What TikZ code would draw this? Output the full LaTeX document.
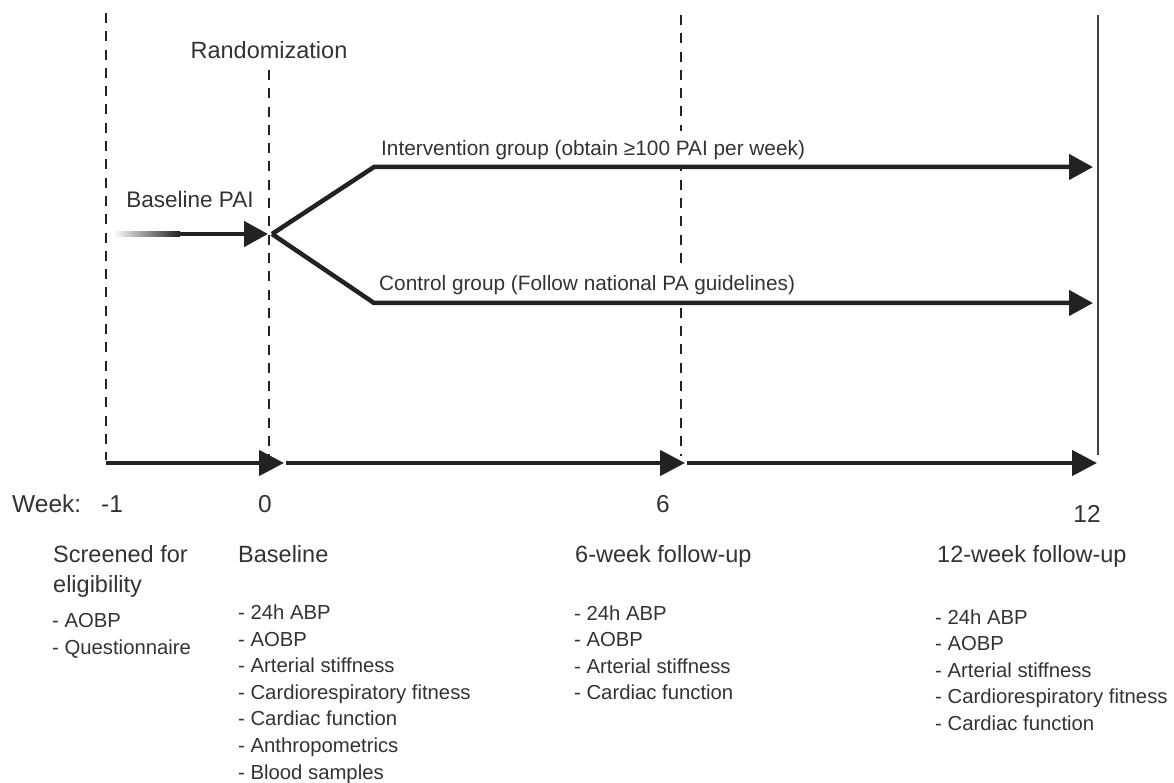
\documentclass[tikz,border=0pt]{standalone}
\usepackage{fontspec}
\setmainfont{Liberation Sans}
\usetikzlibrary{arrows.meta}
\definecolor{ink}{HTML}{333333}
\definecolor{linec}{HTML}{222222}
\begin{document}
\begin{tikzpicture}[x=1pt,y=-1pt,
  flow/.style={draw=linec,line width=4.5pt},
  bigtip/.style={-{Triangle[length=24pt,width=25pt]}},
  tltip/.style={-{Triangle[length=25pt,width=25pt]}},
  guide/.style={draw=linec,line width=2.2pt,dash pattern=on 10pt off 8.3pt},
  lab/.style={inner xsep=0pt,inner ysep=9pt,fill=white,text=ink,font=\fontsize{20.8}{24}\selectfont,anchor=base west},
  item/.style={inner sep=0pt,text=ink,font=\fontsize{20.3}{24}\selectfont,anchor=base west},
  head/.style={inner sep=0pt,text=ink,font=\fontsize{23.5}{28}\selectfont,anchor=base west},
  wk/.style={inner sep=0pt,text=ink,font=\fontsize{24.5}{28}\selectfont,anchor=base},
]
\fill[white] (0,0) rectangle (1174,783);
\useasboundingbox (0,0) rectangle (1174,783);

% guide lines
\coordinate (gAt) at (106,13);  \coordinate (gAb) at (106,460);
\coordinate (gBt) at (269,70);  \coordinate (gBb) at (269,460);
\coordinate (gCt) at (681,15);  \coordinate (gCb) at (681,456);
\coordinate (gDt) at (1098,15); \coordinate (gDb) at (1098,455);
\draw[guide] (gAt) -- (gAb);
\draw[guide] (gBt) -- (gBb);
\draw[guide] (gCt) -- (gCb);
\draw[draw=linec!85,line width=2pt] (gDt) -- (gDb);

% labels on the arms (white backing hides the guide line)
\node[lab] (int) at (381,155.5) {Intervention group (obtain ≥100 PAI per week)};
\node[lab] (ctl) at (379,290.5) {Control group (Follow national PA guidelines)};

% timeline
\coordinate (wm1) at (106,463);
\coordinate (w0) at (284,463);
\coordinate (w0s) at (286,463);
\coordinate (w6) at (685,463);
\coordinate (w6s) at (687,463);
\coordinate (w12) at (1097,463);
\draw[flow,tltip] (wm1) -- (w0);
\draw[flow,tltip] (w0s) -- (w6);
\draw[flow,tltip] (w6s) -- (w12);

% baseline PAI arrow with fading tail
\coordinate (paiS) at (113,234);
\coordinate (paiM) at (180,234);
\coordinate (pai) at (268,234);
\coordinate (j) at (272,234);
\shade[left color=white,right color=linec] (113,231.75) rectangle (180,236.25);
\draw[flow,bigtip] (paiM) -- (pai);

% branches
\coordinate (iC) at (374,167);
\coordinate (iE) at (1093,167);
\coordinate (cC) at (374,303);
\coordinate (cE) at (1093,303);
\draw[flow,bigtip] (j) -- (iC) -- (iE);
\draw[flow,bigtip] (j) -- (cC) -- (cE);

% labels
\node[inner sep=0pt,text=ink,font=\fontsize{23.5}{28}\selectfont,anchor=base] (rand) at (269,58.5) {Randomization};
\node[inner sep=0pt,text=ink,font=\fontsize{22.5}{26}\selectfont,anchor=base] (bpai) at (190,208) {Baseline PAI};

% week row
\node[inner sep=0pt,text=ink,font=\fontsize{24.5}{28}\selectfont,anchor=base west] (week) at (12,512) {Week:};
\node[wk] (n1) at (112,512) {-1};
\node[wk] (n0) at (265,512) {0};
\node[wk] (n6) at (663,512) {6};
\node[wk] (n12) at (1087,522) {12};

% headers
\node[head] (h1) at (53,562.5) {Screened for};
\node[head] (h1b) at (53,592.5) {eligibility};
\node[head] (h2) at (238,562.5) {Baseline};
\node[head] (h3) at (575,562.5) {6-week follow-up};
\node[head] (h4) at (937,562.5) {12-week follow-up};

% items
\node[item] (s1) at (52,627) {- AOBP};
\node[item] (s2) at (52,654) {- Questionnaire};
\foreach \t [count=\i] in {- 24h ABP,- AOBP,- Arterial stiffness,- Cardiorespiratory fitness,- Cardiac function,- Anthropometrics,- Blood samples}
  \node[item] (b\i) at (238,{619.5+26.6*(\i-1)}) {\t};
\foreach \t [count=\i] in {- 24h ABP,- AOBP,- Arterial stiffness,- Cardiac function}
  \node[item] (f\i) at (574,{620.5+26.3*(\i-1)}) {\t};
\foreach \t [count=\i] in {- 24h ABP,- AOBP,- Arterial stiffness,- Cardiorespiratory fitness,- Cardiac function}
  \node[item] (t\i) at (935,{624+26.5*(\i-1)}) {\t};
\end{tikzpicture}
\end{document}
